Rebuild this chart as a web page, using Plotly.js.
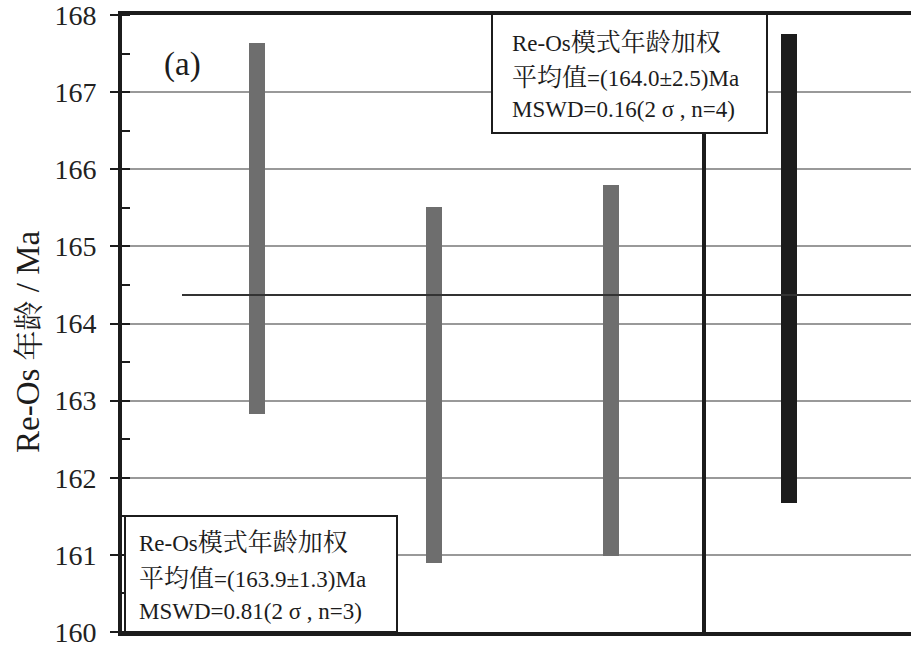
<!DOCTYPE html>
<html>
<head>
<meta charset="utf-8">
<script src="https://cdn.plot.ly/plotly-3.0.1.min.js"></script>
<style>html,body{margin:0;padding:0;background:#fff;}#chart{width:911px;height:650px;}</style>
</head>
<body>
<div id="chart"></div>
<script>
// ---- data ----
const samples = [1, 2, 3, 4];
const lowerAge = [162.83, 160.89, 160.99, 161.67];
const upperAge = [167.64, 165.51, 165.80, 167.75];
const barColors = ['#6e6e6e', '#6e6e6e', '#6e6e6e', '#1c1c1c'];
const weightedMean = 164.37;
const yTickVals = [160, 161, 162, 163, 164, 165, 166, 167, 168];
const yTickText = ['160', '161', '162', '163', '164', '165', '166', '167', '168'];
const boxTopLines = ['Re-Os模式年龄加权', '平均值=(164.0±2.5)Ma', 'MSWD=0.16(2 σ , n=4)'];
const boxBottomLines = ['Re-Os模式年龄加权', '平均值=(163.9±1.3)Ma', 'MSWD=0.81(2 σ , n=3)'];
const panelLabel = '(a)';
const yTitle = 'Re-Os 年龄 / Ma';

// ---- layout helpers (pixel -> paper) ----
const L = 122, T = 15, B = 632, R = 911, W = 911, H = 650;
const px = x => (x - L) / (R - L);
const py = y => (B - y) / (B - T);

const FONT = 'Liberation Serif, Noto Serif CJK SC, Noto Sans CJK SC, serif';
const cjk = (s, size) => s.replace(/([\u4e00-\u9fff]+)/g, '<span style="font-size:' + size + 'px">$1</span>');

const trace = {
  type: 'bar',
  x: samples,
  base: lowerAge,
  y: upperAge.map((u, i) => u - lowerAge[i]),
  width: 0.09,
  marker: {color: barColors, line: {width: 0}},
  hoverinfo: 'skip'
};

const shapes = [
  {type: 'line', xref: 'paper', yref: 'y', x0: px(182), x1: 1, y0: weightedMean, y1: weightedMean,
   line: {color: '#333333', width: 2}, layer: 'above'},
  {type: 'line', xref: 'paper', yref: 'paper', x0: px(704), x1: px(704), y0: 0, y1: py(120),
   line: {color: '#1c1c1c', width: 4}, layer: 'above'},
  {type: 'rect', xref: 'paper', yref: 'paper', x0: px(492), x1: px(767), y0: py(133), y1: py(14),
   fillcolor: '#ffffff', line: {color: '#1c1c1c', width: 2}, layer: 'above'},
  {type: 'rect', xref: 'paper', yref: 'paper', x0: px(125), x1: px(397), y0: py(632), y1: py(516),
   fillcolor: '#ffffff', line: {color: '#1c1c1c', width: 2}, layer: 'above'}
];

const annotations = [];
const topY = [43, 77, 110];
boxTopLines.forEach((t, i) => annotations.push({
  text: cjk(t, 25), xref: 'paper', yref: 'paper', x: px(510), y: py(topY[i]),
  xanchor: 'left', yanchor: 'middle', showarrow: false,
  font: {family: FONT, size: 23, color: '#1c1c1c'}
}));
const botY = [542, 578, 611];
boxBottomLines.forEach((t, i) => annotations.push({
  text: cjk(t, 25), xref: 'paper', yref: 'paper', x: px(137), y: py(botY[i]),
  xanchor: 'left', yanchor: 'middle', showarrow: false,
  font: {family: FONT, size: 23, color: '#1c1c1c'}
}));
annotations.push({
  text: panelLabel, xref: 'paper', yref: 'paper', x: px(162), y: py(64),
  xanchor: 'left', yanchor: 'middle', showarrow: false,
  font: {family: FONT, size: 33, color: '#1c1c1c'}
});
annotations.push({
  text: cjk(yTitle, 30), xref: 'paper', yref: 'paper', x: px(28), y: py(342),
  xanchor: 'center', yanchor: 'middle', showarrow: false, textangle: -90,
  font: {family: FONT, size: 33, color: '#1c1c1c'}
});

const layout = {
  width: W, height: H,
  margin: {l: L, r: W - R, t: T, b: H - B, pad: 0},
  paper_bgcolor: '#ffffff', plot_bgcolor: '#ffffff',
  showlegend: false,
  bargap: 0,
  font: {family: FONT},
  xaxis: {
    range: [0.24, 4.69],
    showgrid: false, zeroline: false, showticklabels: false, ticks: '',
    showline: true, linecolor: '#1c1c1c', linewidth: 4, mirror: true,
    fixedrange: true
  },
  yaxis: {
    range: [160, 168],
    tickvals: yTickVals, ticktext: yTickText,
    ticks: 'outside', ticklen: 8, tickwidth: 2, tickcolor: '#1c1c1c',
    minor: {ticks: 'inside', dtick: 0.5, ticklen: 8, tickwidth: 2, tickcolor: '#1c1c1c', showgrid: false},
    showgrid: true, gridcolor: '#999999', gridwidth: 2,
    zeroline: false,
    showline: true, linecolor: '#1c1c1c', linewidth: 4, mirror: false,
    tickfont: {family: FONT, size: 28, color: '#222222'},
    ticklabelstandoff: 8,
    ticklabeloverflow: 'allow',
    fixedrange: true
  },
  shapes: shapes,
  annotations: annotations
};

Plotly.newPlot('chart', [trace], layout, {displayModeBar: false, staticPlot: true});
</script>
</body>
</html>
